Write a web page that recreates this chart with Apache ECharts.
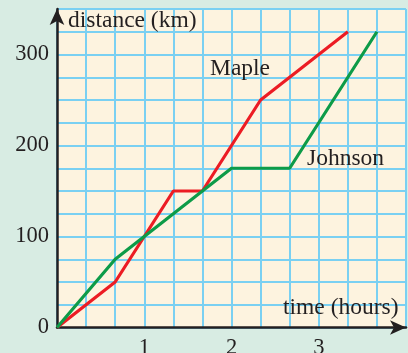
<!DOCTYPE html>
<html>
<head>
<meta charset="utf-8">
<script src="https://cdn.jsdelivr.net/npm/echarts@6/dist/echarts.min.js"></script>
<style>
html,body{margin:0;padding:0;background:#d8ece3;}
#c{width:408px;height:353px;}
</style>
</head>
<body>
<div id="c"></div>
<script>
// time in hours, distance in km
var mapleTime = [0, 2/3, 1, 4/3, 5/3, 7/3, 10/3];
var mapleDist = [0, 50, 100, 150, 150, 250, 325];
var johnsonTime = [0, 2/3, 1, 5/3, 2, 8/3, 11/3];
var johnsonDist = [0, 75, 100, 150, 175, 175, 325];
var yTickLabels = [0, 100, 200, 300];
var xTickLabels = [1, 2, 3];

function pairs(xs, ys){ return xs.map(function(x,i){ return [x, ys[i]]; }); }
function near(v, list){ for (var i=0;i<list.length;i++){ if (Math.abs(v-list[i])<1e-6) return list[i]; } return null; }

var FONT = '"Liberation Serif", "Times New Roman", serif';
var chart = echarts.init(document.getElementById('c'));
chart.setOption({
  backgroundColor: '#d8ece3',
  animation: false,
  grid: {left: 57, right: 2, top: 9, bottom: 25.5, show: true, backgroundColor: '#fdf3df', borderWidth: 0,
         containLabel: false, outerBoundsMode: 'none'},
  xAxis: {
    type: 'value', min: 0, max: 4, interval: 1/3,
    axisLine: {show: true, lineStyle: {color: '#231f20', width: 2.5}, symbol: ['none', 'arrow'], symbolSize: [11, 16], onZero: false},
    axisTick: {show: false},
    splitLine: {show: true, lineStyle: {color: '#7ad0f2', width: 2}},
    axisLabel: {
      fontFamily: FONT, fontSize: 22.5, color: '#231f20', margin: 9, showMinLabel: true, showMaxLabel: true,
      formatter: function(v){ var n = near(v, xTickLabels); return n === null ? '' : String(n); }
    }
  },
  yAxis: {
    type: 'value', min: 0, max: 350, interval: 25,
    axisLine: {show: true, lineStyle: {color: '#231f20', width: 2.5}, symbol: ['none', 'arrow'], symbolSize: [11, 16], onZero: false},
    axisTick: {show: false},
    splitLine: {show: true, lineStyle: {color: '#7ad0f2', width: 2}},
    axisLabel: {
      fontFamily: FONT, fontSize: 22.5, color: '#231f20', margin: 8,
      formatter: function(v){ var n = near(v, yTickLabels); return n === null ? '' : String(n); }
    }
  },
  series: [
    {name: 'Maple', type: 'line', data: pairs(mapleTime, mapleDist), showSymbol: false, z: 3,
     lineStyle: {color: '#ec1c24', width: 3.2}, itemStyle: {color: '#ec1c24'}},
    {name: 'Johnson', type: 'line', data: pairs(johnsonTime, johnsonDist), showSymbol: false, z: 3,
     lineStyle: {color: '#0d9b48', width: 3.2}, itemStyle: {color: '#0d9b48'}}
  ],
  graphic: [
    {type: 'text', left: 68, top: 9, z: 10, style: {text: 'distance (km)', font: '23.5px ' + FONT, fill: '#231f20'}},
    {type: 'text', left: 283, top: 296, z: 10, style: {text: 'time (hours)', font: '23.5px ' + FONT, fill: '#231f20'}},
    {type: 'text', left: 210, top: 57, z: 10, style: {text: 'Maple', font: '23.5px ' + FONT, fill: '#231f20'}},
    {type: 'text', left: 307, top: 147, z: 10, style: {text: 'Johnson', font: '23.5px ' + FONT, fill: '#231f20'}}
  ]
});
</script>
</body>
</html>
